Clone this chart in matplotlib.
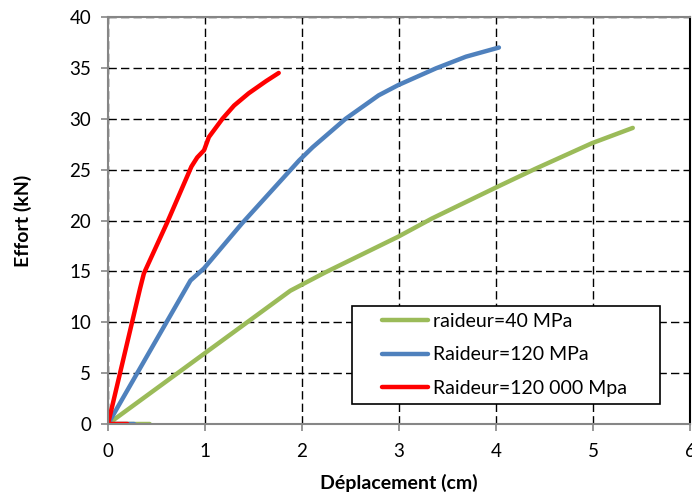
import matplotlib
matplotlib.use("Agg")
import matplotlib.pyplot as plt
from matplotlib.patches import Rectangle

plt.rcParams['font.family'] = ['Lato', 'DejaVu Sans']

green_x = [0.43, 0.0, 1.88, 2.24, 2.99, 3.34, 3.99, 4.41, 4.99, 5.41]
green_y = [0.0, 0.0, 13.1, 14.9, 18.4, 20.2, 23.2, 25.1, 27.6, 29.1]

blue_x = [0.27, 0.0, 0.85, 0.99, 1.38, 1.97, 2.11, 2.45, 2.79, 2.99, 3.38, 3.69, 4.03]
blue_y = [0.0, 0.0, 14.1, 15.3, 19.7, 25.9, 27.2, 30.0, 32.3, 33.3, 34.95, 36.1, 37.0]

red_x = [0.20, 0.0, 0.33, 0.37, 0.61, 0.86, 0.92, 0.99, 1.04, 1.18, 1.30, 1.45, 1.63, 1.76]
red_y = [0.0, 0.0, 13.3, 14.8, 19.8, 25.3, 26.2, 26.9, 28.2, 30.0, 31.3, 32.5, 33.7, 34.5]

labels = ["raideur=40 MPa", "Raideur=120 MPa", "Raideur=120 000 Mpa"]
colors = ["#9BBB59", "#4F81BD", "#FF0000"]

fig = plt.figure(figsize=(6.92, 4.96), dpi=100)
ax = fig.add_axes([108/692, 1-424/496, (690-108)/692, (424-17)/496])

for xs, ys, lab, c in zip([green_x, blue_x, red_x], [green_y, blue_y, red_y], labels, colors):
    ax.plot(xs, ys, color=c, lw=3.2, label=lab, solid_capstyle='round', solid_joinstyle='round')

ax.set_xlim(0, 6)
ax.set_ylim(0, 40)
ax.set_xticks(range(0, 7))
ax.set_yticks(range(0, 41, 5))
ax.grid(True, color='black', linestyle=(0, (6, 3)), linewidth=1.0)
ax.set_axisbelow(True)

for s in ['left', 'bottom', 'top']:
    ax.spines[s].set_color('#868686')
    ax.spines[s].set_linewidth(1.5)
ax.spines['right'].set_color('black')
ax.spines['right'].set_linewidth(1.5)

ax.tick_params(axis='both', direction='out', length=5, color='#868686', width=1.2,
               labelsize=13.5, labelcolor='black')
ax.tick_params(axis='x', pad=9)
ax.tick_params(axis='y', pad=7)

ax.set_xlabel("Déplacement (cm)", fontsize=14, fontweight='bold', labelpad=10)
ax.set_ylabel("Effort (kN)", fontsize=14, fontweight='bold', labelpad=27)

# legend box (fixed size like the reference)
bx0, bx1 = (352-108)/582, (660-108)/582
by0, by1 = (424-404.3)/407, (424-305.7)/407
ax.add_patch(Rectangle((bx0, by0), bx1-bx0, by1-by0, transform=ax.transAxes,
                       facecolor='white', edgecolor='black', linewidth=1.2, zorder=4.5))

leg = ax.legend(loc='center left', bbox_to_anchor=((382-108)/582, (by0+by1)/2), fontsize=14,
                frameon=False, handlelength=2.35, handletextpad=0.25, borderpad=0,
                labelspacing=0.85, borderaxespad=0)
leg.set_zorder(5)

fig.savefig("out.png", dpi=100)
